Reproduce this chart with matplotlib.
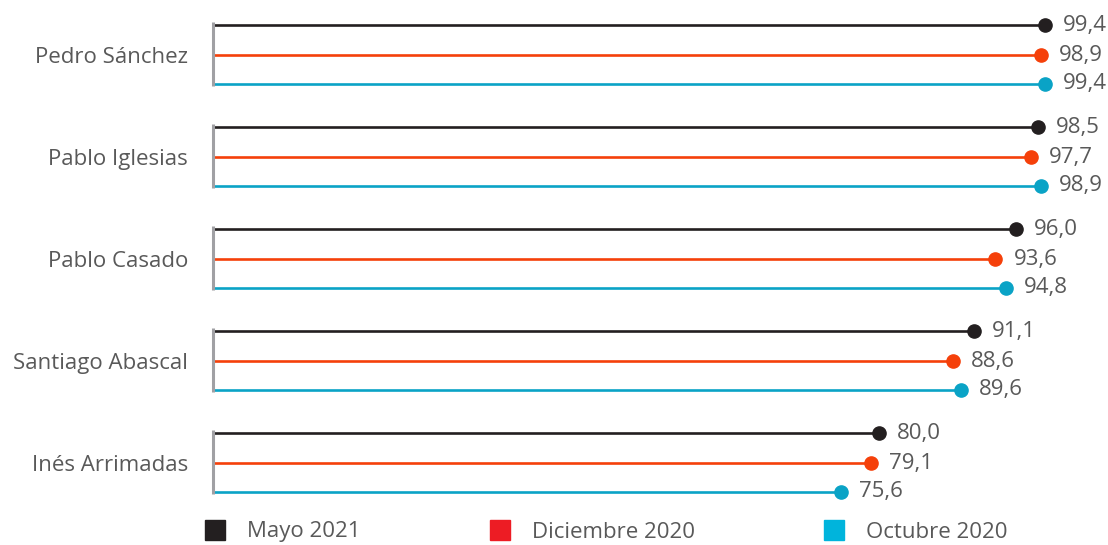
import matplotlib
matplotlib.use("Agg")
import matplotlib.pyplot as plt
from matplotlib.lines import Line2D

plt.rcParams['font.family'] = ['Open Sans', 'DejaVu Sans']

politicians = ["Pedro Sánchez", "Pablo Iglesias", "Pablo Casado", "Santiago Abascal", "Inés Arrimadas"]
series_names = ["Mayo 2021", "Diciembre 2020", "Octubre 2020"]
mayo_2021 = [99.4, 98.5, 96.0, 91.1, 80.0]
diciembre_2020 = [98.9, 97.7, 93.6, 88.6, 79.1]
octubre_2020 = [99.4, 98.9, 94.8, 89.6, 75.6]

line_colors = ["#231f20", "#f5400a", "#0aa3c6"]
legend_colors = ["#231f20", "#ed1c24", "#00b4dc"]
text_color = "#595959"

fig = plt.figure(figsize=(11.08, 5.45), dpi=100)
ax = fig.add_axes([213 / 1108, 31 / 545, 1 - 213 / 1108, 510 / 545])
ax.set_xlim(2.5, 106.7)
ax.set_ylim(4.5, -0.5)
x0 = ax.get_xlim()[0]

offsets = [-0.29, 0.0, 0.28]
all_series = [mayo_2021, diciembre_2020, octubre_2020]
for s, (vals, off, col) in enumerate(zip(all_series, offsets, line_colors)):
    ys = [i + off for i in range(len(politicians))]
    ax.hlines(ys, x0, vals, color=col, lw=1.9, zorder=2)
    ax.plot(vals, ys, 'o', color=col, ms=9.5, zorder=3, linestyle='none')
    for v, y in zip(vals, ys):
        ax.annotate(f"{v:.1f}".replace('.', ','), (v, y), xytext=(13, 0),
                    textcoords='offset points', va='center', ha='left',
                    fontsize=16, color=text_color)

# grey bracket per group
for i in range(len(politicians)):
    ax.vlines(x0, i - 0.325, i + 0.30, color="#a0a0a4", lw=2.2, zorder=4, clip_on=False)

ax.set_yticks(range(len(politicians)))
ax.set_yticklabels(politicians, fontsize=16, color=text_color)
ax.tick_params(axis='y', length=0, pad=18)
ax.set_xticks([])
for sp in ax.spines.values():
    sp.set_visible(False)

handles = [Line2D([], [], marker='s', linestyle='none', color=c, markersize=14.5)
           for c in legend_colors]
leg = fig.legend(handles, series_names, loc='center left', bbox_to_anchor=(205 / 1108, 13 / 545),
                 ncol=3, frameon=False, fontsize=16, handletextpad=1.0, columnspacing=5.8,
                 handlelength=0.9, borderaxespad=0, borderpad=0)
for t in leg.get_texts():
    t.set_color(text_color)

fig.savefig("out.png", dpi=100)
